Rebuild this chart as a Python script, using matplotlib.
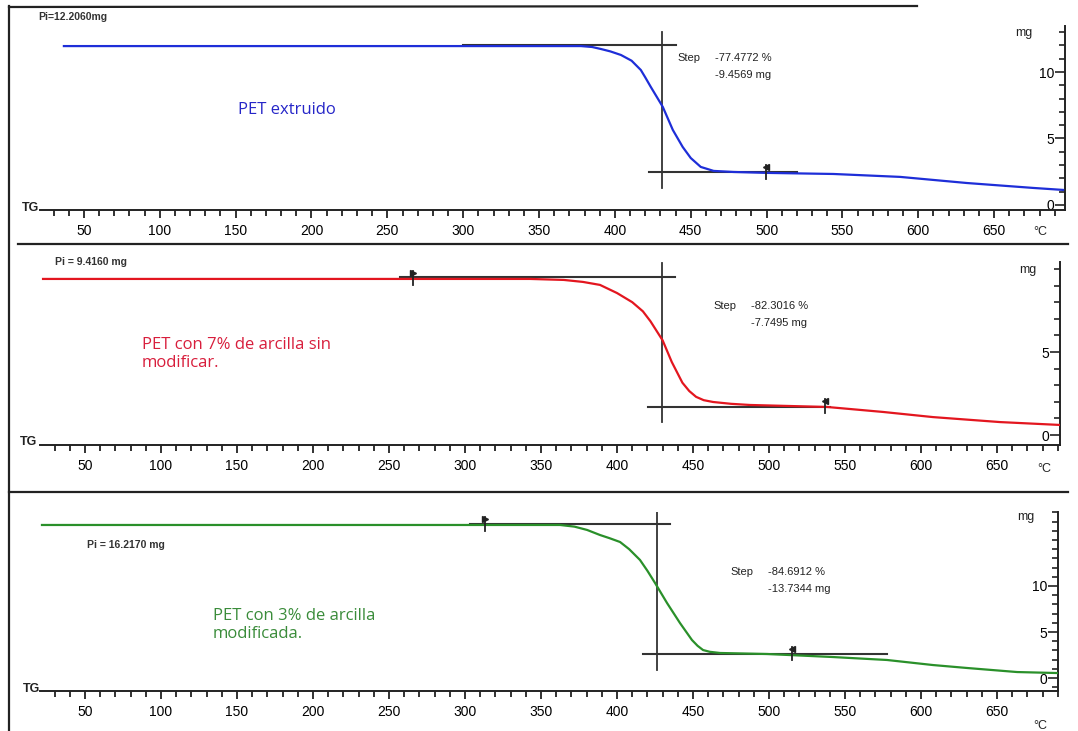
import matplotlib
matplotlib.use("Agg")
import matplotlib.pyplot as plt
from matplotlib.lines import Line2D
from matplotlib.ticker import FixedLocator, MultipleLocator

plt.rcParams['font.family'] = ['Liberation Sans', 'DejaVu Sans']

W, H = 1078, 731

# ---- data (temperature in C, mass in mg) ----
t_ext = [36.8, 377.6, 385.0, 390.8, 397.0, 404.0, 411.0, 417.1, 420.0, 423.7, 427.5,
         431.6, 438.2, 444.7, 450.0, 456.6, 465.1, 478.3, 500.7, 544.0, 588.0, 632.0,
         675.7, 695.4]
m_ext = [11.95, 11.95, 11.88, 11.73, 11.55, 11.28, 10.85, 10.15, 9.60, 8.87, 8.15,
         7.37, 5.64, 4.36, 3.53, 2.86, 2.56, 2.48, 2.41, 2.33, 2.11, 1.65,
         1.28, 1.13]

t_7 = [22.4, 342.8, 365.0, 377.6, 388.8, 400.0, 410.0, 417.0, 422.0, 430.0, 436.0,
       443.0, 447.5, 452.0, 457.0, 463.2, 475.0, 487.5, 538.2, 575.0, 607.9, 652.0, 693.0]
m_7 = [9.40, 9.40, 9.34, 9.22, 9.04, 8.55, 8.00, 7.45, 6.85, 5.70, 4.40,
       3.15, 2.65, 2.30, 2.10, 1.99, 1.88, 1.81, 1.69, 1.39, 1.08, 0.78, 0.60]

t_3 = [21.7, 362.5, 372.0, 380.3, 388.8, 395.0, 402.0, 408.0, 415.1, 420.0, 425.0,
       432.9, 441.4, 449.3, 453.0, 456.6, 461.0, 467.8, 498.7, 542.1, 577.6, 607.9,
       630.3, 663.2, 690.0]
m_3 = [16.63, 16.63, 16.45, 16.09, 15.54, 15.20, 14.78, 14.00, 12.83, 11.65, 10.33,
       8.15, 5.98, 4.13, 3.50, 3.04, 2.85, 2.72, 2.61, 2.28, 1.96, 1.41,
       1.09, 0.65, 0.54]

# step evaluation: onset T, upper level, lower level, extents of the tangents
onset = [430.9, 429.6, 426.3]
upper = [12.03, 9.52, 16.74]
lower = [2.48, 1.69, 2.61]
upper_from = [300.0, 257.0, 303.0]
upper_to = [440.1, 438.0, 434.9]
lower_from = [422.4, 420.4, 417.0]
lower_to = [520.0, 540.0, 577.6]
vert_span = [(1.28, 13.0), (0.78, 10.36), (0.87, 18.0)]
flags = [[(499.3, 2.45, '<')],
         [(265.8, 9.45, '>'), (536.8, 1.70, '<')],
         [(313.2, 16.70, '>'), (515.1, 2.60, '<')]]

pi_txt = ["Pi=12.2060mg", "Pi = 9.4160 mg", "Pi = 16.2170 mg"]
step_pct = ["-77.4772 %", "-82.3016 %", "-84.6912 %"]
step_mg = ["-9.4569 mg", "-7.7495 mg", "-13.7344 mg"]
names = ["PET extruido", "PET con 7% de arcilla sin\nmodificar.", "PET con 3% de arcilla\nmodificada."]
curves = [(t_ext, m_ext), (t_7, m_7), (t_3, m_3)]
line_cols = ['#1e2ed8', '#e3161f', '#2a902a']
text_cols = ['#2626c8', '#d81e3c', '#3a8c3a']
x_tick_vals = list(range(50, 651, 50))
y_tick_vals = [[0, 5, 10], [0, 5], [0, 5, 10]]

# ---- layout (pixels) ----
boxes = [(40, 1065, 26, 210), (40, 1060, 262, 445), (40, 1058, 512, 691)]
xlims = [(21.05, 696.7), (20.4, 691.4), (20.4, 690.1)]
ylims = [(-0.38, 13.46), (-0.6, 10.42), (-1.41, 18.04)]
pi_pos = [(38, 17), (55, 262), (87, 545)]
name_pos = [(238, 110), (142, 354), (213, 625)]
step_pos = [(677, 58), (713, 306), (730, 572)]
tg_pos = [(22, 208), (20, 442), (23, 689)]
degc_pos = [(1033, 232), (1037, 469), (1033, 726)]
mg_pos = [(1032, 33), (1036, 270), (1034, 517)]

fig = plt.figure(figsize=(W / 100, H / 100), dpi=100)
fig.patch.set_facecolor('white')


def fx(x):
    return x / W


def fy(y):
    return 1 - y / H


# frame lines of the scanned sheet
for (x0, y0, x1, y1) in [(9, 7, 917, 6), (9, 6, 9, 731), (18, 244, 1068, 244), (9, 492, 1068, 492)]:
    fig.add_artist(Line2D([fx(x0), fx(x1)], [fy(y0), fy(y1)], transform=fig.transFigure,
                          color='#222222', lw=1.6))

for i in range(3):
    x0, x1, yt, yb = boxes[i]
    ax = fig.add_axes([fx(x0), fy(yb), fx(x1) - fx(x0), fy(yt) - fy(yb)])
    ax.set_facecolor('none')
    ax.set_xlim(*xlims[i])
    ax.set_ylim(*ylims[i])
    ax.spines['top'].set_visible(False)
    ax.spines['right'].set_visible(False)
    ax.spines['left'].set_position(('axes', 1.0))
    for s in ('left', 'bottom'):
        ax.spines[s].set_linewidth(1.4)
        ax.spines[s].set_color('#222222')

    ax.xaxis.set_major_locator(FixedLocator(x_tick_vals))
    ax.xaxis.set_minor_locator(MultipleLocator(10))
    ax.yaxis.set_major_locator(FixedLocator(y_tick_vals[i]))
    ax.yaxis.set_minor_locator(MultipleLocator(1))
    ax.tick_params(axis='x', which='major', direction='out', length=6, width=1.3,
                   labelsize=10, pad=4, color='#222222')
    ax.tick_params(axis='x', which='minor', direction='out', length=4, width=1.3, color='#222222')
    ax.tick_params(axis='y', which='major', direction='out', length=7, width=1.2,
                   labelsize=10, pad=1, color='#222222')
    ax.tick_params(axis='y', which='minor', direction='out', length=4, width=1.2, color='#222222')

    t, m = curves[i]
    ax.plot(t, m, color=line_cols[i], lw=1.6, zorder=3)

    # tangent construction
    ax.plot([upper_from[i], upper_to[i]], [upper[i], upper[i]], color='#333333', lw=1.5, zorder=2)
    ax.plot([lower_from[i], lower_to[i]], [lower[i], lower[i]], color='#333333', lw=1.5, zorder=2)
    ax.plot([onset[i], onset[i]], list(vert_span[i]), color='#333333', lw=1.3, zorder=2)
    span = ylims[i][1] - ylims[i][0]
    for (ft, fm, mk) in flags[i]:
        ax.plot([ft, ft], [fm - 0.035 * span, fm + 0.04 * span], color='#222222', lw=1.3, zorder=4)
        ax.plot([ft], [fm + 0.03 * span], marker=mk, color='#222222', ms=4, zorder=4)

    fig.text(fx(pi_pos[i][0]), fy(pi_pos[i][1]), pi_txt[i], fontsize=7.5,
             fontweight='bold', color='#333333', va='center')
    fig.text(fx(name_pos[i][0]), fy(name_pos[i][1]), names[i], fontsize=12,
             family=['Open Sans', 'DejaVu Sans'], color=text_cols[i], va='center',
             linespacing=1.15)
    sx, sy = step_pos[i]
    fig.text(fx(sx), fy(sy), "Step", fontsize=8, color='#222222', va='center')
    fig.text(fx(sx + 38), fy(sy), step_pct[i], fontsize=8, color='#222222', va='center')
    fig.text(fx(sx + 38), fy(sy + 17), step_mg[i], fontsize=8, color='#222222', va='center')
    fig.text(fx(tg_pos[i][0]), fy(tg_pos[i][1]), "TG", fontsize=9, fontweight='bold',
             color='#222222', va='center')
    fig.text(fx(degc_pos[i][0]), fy(degc_pos[i][1]), "°C", fontsize=9, color='#222222', va='center')
    fig.text(fx(mg_pos[i][0]), fy(mg_pos[i][1]), "mg", fontsize=9, color='#222222',
             va='center', ha='right')

fig.savefig("out.png", dpi=100, facecolor='white')
